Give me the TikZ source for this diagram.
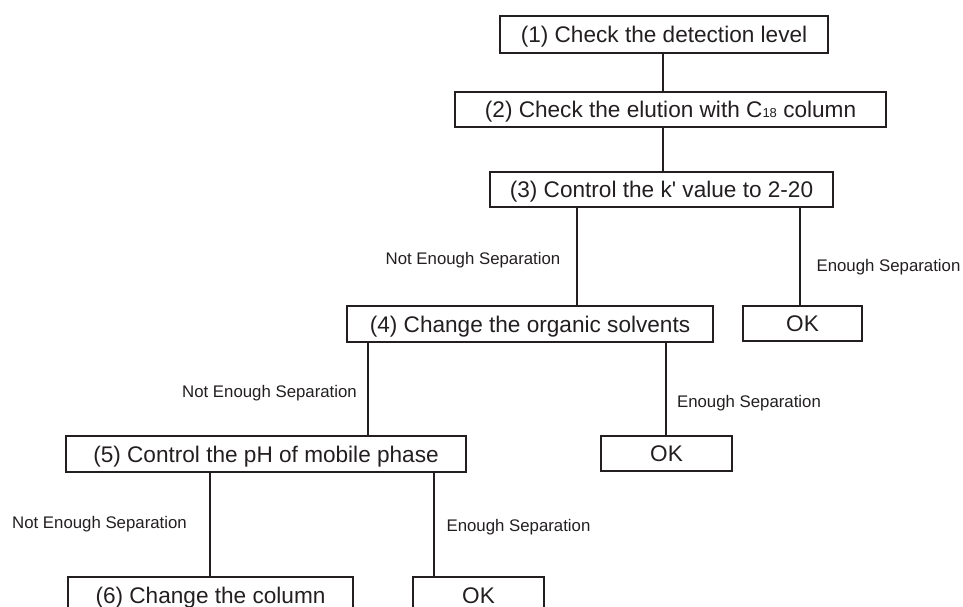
\documentclass[tikz,border=0pt]{standalone}
\usepackage{fontspec}
\setmainfont{Liberation Sans}
\definecolor{ink}{HTML}{231F20}
\begin{document}
\begin{tikzpicture}[x=1pt,y=1pt,
  every node/.style={text=ink},
  stepbox/.style={draw=ink, line width=1.1pt, inner sep=0pt, text height=16.2pt, text depth=0pt, font=\fontsize{22.6}{24}\selectfont},
  lab/.style={font=\fontsize{16.8}{18}\selectfont, inner sep=0pt},
  conn/.style={draw=ink, line width=1.1pt}]
\useasboundingbox (0,0) rectangle (963,607);
% boxes (y measured from top: y_tikz = 607 - y)
\node[stepbox, minimum width=328, minimum height=37] (b1) at (664,572.5) {(1) Check the detection level};
\node[stepbox, minimum width=431, minimum height=35] (b2) at (670.5,497.5) {(2) Check the elution with C{\fontsize{13}{13}\selectfont 18} column};
\node[stepbox, minimum width=343, minimum height=35] (b3) at (661.5,417.5) {(3) Control the k\textquotesingle{} value to 2-20};
\node[stepbox, minimum width=366, minimum height=36] (b4) at (530,283) {(4) Change the organic solvents};
\node[stepbox, minimum width=119, minimum height=35] (ok1) at (802.5,283.5) {OK};
\node[stepbox, minimum width=400, minimum height=36] (b5) at (266,153) {(5) Control the pH of mobile phase};
\node[stepbox, minimum width=131, minimum height=35] (ok2) at (666.5,153.5) {OK};
\node[stepbox, minimum width=285, minimum height=36] (b6) at (210.5,12) {(6) Change the column};
\node[stepbox, minimum width=131, minimum height=36] (ok3) at (478.5,12) {OK};
% connector x positions
\coordinate (x12) at (663,0);
\coordinate (x3a) at (577,0);
\coordinate (x3b) at (800,0);
\coordinate (x4a) at (368,0);
\coordinate (x4b) at (666,0);
\coordinate (x5a) at (210,0);
\coordinate (x5b) at (434,0);
% connectors
\draw[conn] (b1.south -| x12) -- (b2.north -| x12);
\draw[conn] (b2.south -| x12) -- (b3.north -| x12);
\draw[conn] (b3.south -| x3a) -- (b4.north -| x3a);
\draw[conn] (b3.south -| x3b) -- (ok1.north -| x3b);
\draw[conn] (b4.south -| x4a) -- (b5.north -| x4a);
\draw[conn] (b4.south -| x4b) -- (ok2.north -| x4b);
\draw[conn] (b5.south -| x5a) -- (b6.north -| x5a);
\draw[conn] (b5.south -| x5b) -- (ok3.north -| x5b);
% labels
\node[lab] (l1) at (473,347) {Not Enough Separation};
\node[lab] (l2) at (888.5,340) {Enough Separation};
\node[lab] (l3) at (269.5,214) {Not Enough Separation};
\node[lab] (l4) at (749,204) {Enough Separation};
\node[lab] (l5) at (99.5,83) {Not Enough Separation};
\node[lab] (l6) at (518.5,80) {Enough Separation};
\end{tikzpicture}
\end{document}
